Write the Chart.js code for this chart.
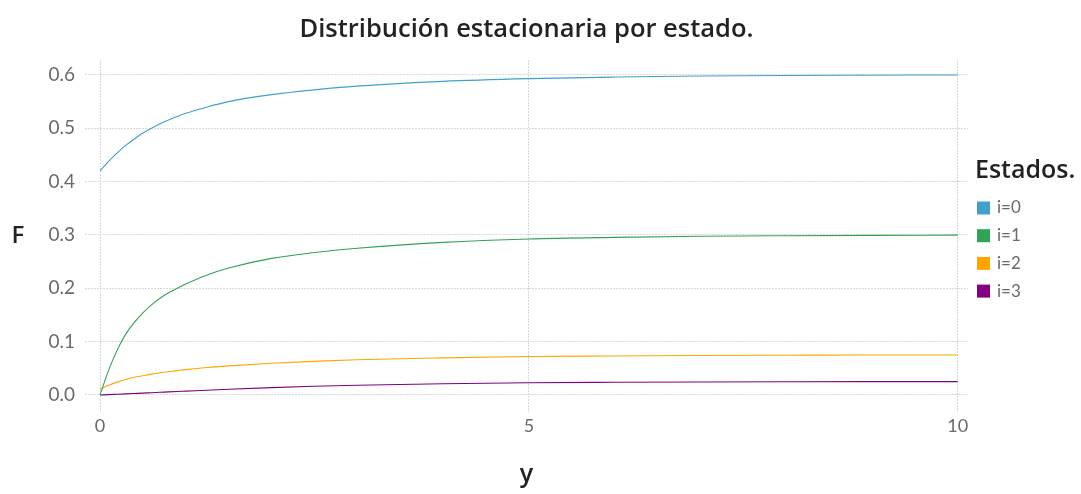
<!DOCTYPE html>
<html>
<head>
<meta charset="utf-8">
<script src="https://cdn.jsdelivr.net/npm/chart.js"></script>
<style>
  html, body { margin: 0; padding: 0; background: #fff; }
  #wrap { position: relative; width: 1081px; height: 494px; }
</style>
</head>
<body>
<div id="wrap"><canvas id="myChart" width="1081" height="494"></canvas></div>
<script>
// values
const xs = [0, 0.1, 0.2, 0.3, 0.4, 0.5, 0.6, 0.75, 0.9, 1, 1.25, 1.5, 2, 2.5, 3, 4, 5, 6, 7, 8, 9, 10]
const state0 = [0.42, 0.438, 0.454, 0.468, 0.48, 0.491, 0.5, 0.512, 0.522, 0.528, 0.54, 0.55, 0.563, 0.572, 0.579, 0.588, 0.593, 0.596, 0.598, 0.599, 0.5995, 0.6]
const state1 = [0, 0.046, 0.084, 0.114, 0.136, 0.154, 0.169, 0.187, 0.2, 0.208, 0.225, 0.238, 0.256, 0.267, 0.275, 0.286, 0.2925, 0.2955, 0.2975, 0.2985, 0.2992, 0.2996]
const state2 = [0.011, 0.018, 0.024, 0.029, 0.033, 0.036, 0.039, 0.0425, 0.0455, 0.0475, 0.0515, 0.0545, 0.0595, 0.063, 0.066, 0.0695, 0.072, 0.073, 0.074, 0.0745, 0.075, 0.075]
const state3 = [0, 0.0006, 0.0013, 0.002, 0.0027, 0.0034, 0.0042, 0.0053, 0.0064, 0.0071, 0.0089, 0.0106, 0.0137, 0.0162, 0.0182, 0.021, 0.0228, 0.0237, 0.0243, 0.0246, 0.0249, 0.025]

const labels = ['i=0', 'i=1', 'i=2', 'i=3']
const colors = ['#40a0cc', '#31a354', '#ffa500', '#800080']
const xTicks = [0, 5, 10]
const yTicks = [0, 0.1, 0.2, 0.3, 0.4, 0.5, 0.6]

const titleText = 'Distribución estacionaria por estado.'
const legendTitle = 'Estados.'

const FONT = 'Lato, "Open Sans", sans-serif'
const HEAD = '"Open Sans", Lato, sans-serif'
const gridColor = '#d8d8d8'
const tickColor = '#6c686e'
const darkText = '#222222'

function series(ys) {
    return xs.map((x, i) => ({ x: x, y: ys[i] }))
}

const datasets = [state0, state1, state2, state3].map((ys, i) => ({
    label: labels[i],
    data: series(ys),
    borderColor: colors[i],
    backgroundColor: colors[i],
    borderWidth: 1.1,
    pointRadius: 0,
    fill: false,
    cubicInterpolationMode: 'monotone'
}))

// title, upright "F" and the legend
const textPlugin = {
    id: 'texts',
    afterDraw(chart) {
        const ctx = chart.ctx
        const area = chart.chartArea
        ctx.save()
        ctx.textBaseline = 'middle'

        ctx.fillStyle = darkText
        ctx.font = '600 25.5px ' + HEAD
        ctx.textAlign = 'center'
        ctx.fillText(titleText, (area.left + area.right) / 2, 30)

        ctx.font = '600 24px ' + HEAD
        ctx.fillText('F', 18, 236)

        ctx.textAlign = 'left'
        ctx.font = '600 25px ' + HEAD
        ctx.fillText(legendTitle, 975, 171)

        ctx.font = '17px ' + FONT
        chart.data.datasets.forEach((ds, i) => {
            const y = 208 + i * 27.7
            ctx.fillStyle = ds.borderColor
            ctx.fillRect(977, y - 6.5, 13, 13)
            ctx.fillStyle = tickColor
            ctx.fillText(ds.label, 997, y)
        })
        ctx.restore()
    }
}

const chart = new Chart(document.getElementById('myChart').getContext('2d'), {
    type: 'line',
    data: { datasets: datasets },
    options: {
        responsive: false,
        animation: false,
        layout: { padding: { top: 60, right: 113, left: 0, bottom: 0 } },
        plugins: {
            legend: { display: false },
            title: { display: false },
            tooltip: { enabled: false }
        },
        scales: {
            x: {
                type: 'linear',
                min: -0.175,
                max: 10.12,
                afterBuildTicks: (scale) => { scale.ticks = xTicks.map(v => ({ value: v })) },
                afterFit: (scale) => { scale.height = 82 },
                ticks: {
                    color: tickColor,
                    font: { family: FONT, size: 18 },
                    padding: 3,
                    maxRotation: 0,
                    callback: (v) => String(v)
                },
                grid: { color: gridColor, lineWidth: 1, drawTicks: false },
                border: { display: false, dash: [2, 1] },
                title: {
                    display: true,
                    text: 'y',
                    color: darkText,
                    font: { family: HEAD, size: 25, weight: '600' },
                    padding: { top: 0, bottom: 4 }
                }
            },
            y: {
                type: 'linear',
                min: -0.032,
                max: 0.628,
                afterBuildTicks: (scale) => { scale.ticks = yTicks.map(v => ({ value: v })) },
                afterFit: (scale) => { scale.width = 85 },
                ticks: {
                    color: tickColor,
                    font: { family: FONT, size: 19 },
                    padding: 10,
                    callback: (v) => v.toFixed(1)
                },
                grid: { color: gridColor, lineWidth: 1, drawTicks: false },
                border: { display: false, dash: [2, 1] }
            }
        }
    },
    plugins: [textPlugin]
})
</script>
</body>
</html>
